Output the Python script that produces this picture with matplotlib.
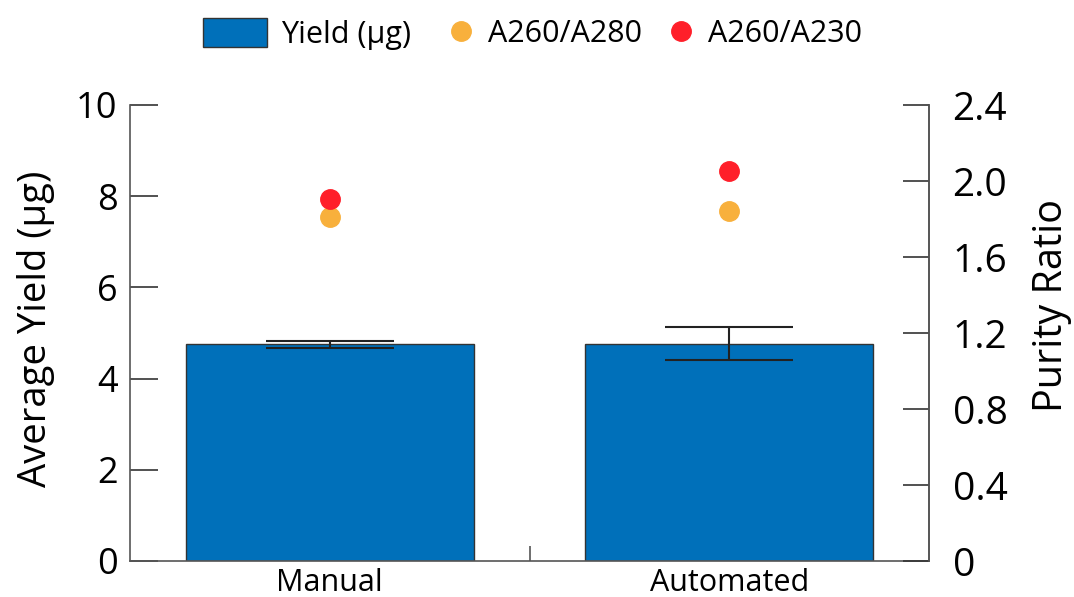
import numpy as np
import matplotlib.pyplot as plt
from matplotlib.patches import Patch
from matplotlib.lines import Line2D

plt.rcParams['font.family'] = ['Open Sans', 'DejaVu Sans']

methods = ['Manual', 'Automated']
yield_mean = [4.75, 4.765]
yield_err = [0.085, 0.365]
a260_280 = [1.81, 1.84]
a260_230 = [1.905, 2.055]

bar_color = '#0070BA'
orange = '#F8B03C'
red = '#FF1F2A'
spine_color = '#555555'

fig = plt.figure(figsize=(10.74, 5.97), dpi=100)
ax = fig.add_axes([130 / 1074, 36 / 597, 799 / 1074, 456 / 597])
x = np.arange(len(methods))

ax.bar(x, yield_mean, width=0.72, color=bar_color, edgecolor='#333333',
       linewidth=1, zorder=2)
ax.errorbar(x, yield_mean, yerr=yield_err, fmt='none', ecolor='#222222',
            elinewidth=1.5, capsize=46, capthick=1.5, zorder=3)

ax.set_xlim(-0.5, 1.5)
ax.set_ylim(0, 10)
ax.set_yticks([0, 2, 4, 6, 8, 10])
ax.set_xticks([0.5])
ax.set_xticklabels([''])
ax.tick_params(axis='x', direction='in', length=11, width=1.2, color=spine_color)
ax.tick_params(axis='y', direction='in', length=20, width=1.2, color='#333333',
               labelsize=26, pad=9)
# category names sit under the bars (the only x tick is the divider at 0.5)
for i, m in enumerate(methods):
    ax.text(x[i], -0.16, m, ha='center', va='top', fontsize=22,
            transform=ax.transData)
ax.set_ylabel('Average Yield (μg)', fontsize=27.5)
ax.yaxis.set_label_coords(-0.094, 0.51)
ax.spines['top'].set_visible(False)
for s in ['left', 'bottom', 'right']:
    ax.spines[s].set_color(spine_color)
    ax.spines[s].set_linewidth(1.2)

ax2 = ax.twinx()
ax2.set_ylim(0, 2.4)
ax2.set_yticks([0, 0.4, 0.8, 1.2, 1.6, 2.0, 2.4])
ax2.set_yticklabels(['0', '0.4', '0.8', '1.2', '1.6', '2.0', '2.4'])
ax2.plot(x, a260_280, 'o', color=orange, markersize=14, zorder=4)
ax2.plot(x, a260_230, 'o', color=red, markersize=14, zorder=4)
ax2.tick_params(axis='y', direction='in', length=19, width=1.2, color='#333333',
                labelsize=28, pad=17)
ax2.set_ylabel('Purity Ratio', fontsize=28.5)
ax2.yaxis.set_label_coords(1.128, 0.561)
for s in ['top', 'left', 'bottom']:
    ax2.spines[s].set_visible(False)
ax2.spines['right'].set_color(spine_color)
ax2.spines['right'].set_linewidth(1.2)

# legend: wide patch on its own, then the two marker entries
leg1 = fig.legend(handles=[Patch(facecolor=bar_color, edgecolor='#333333',
                                 label='Yield (μg)')],
                  loc='center left', bbox_to_anchor=(203 / 1074, 1 - 34 / 597),
                  frameon=False, fontsize=22, handlelength=2.1, handleheight=1.05,
                  handletextpad=0.46, borderpad=0, borderaxespad=0)
leg2 = fig.legend(handles=[
    Line2D([], [], marker='o', linestyle='none', color=orange, markersize=14,
           label='A260/A280'),
    Line2D([], [], marker='o', linestyle='none', color=red, markersize=14,
           label='A260/A230')],
    loc='center left', bbox_to_anchor=(449 / 1074, 1 - 34 / 597), ncol=2,
    frameon=False, fontsize=22, handlelength=0.8, handletextpad=0.46,
    columnspacing=0.9, borderpad=0, borderaxespad=0)

plt.savefig('out.png', dpi=100)
